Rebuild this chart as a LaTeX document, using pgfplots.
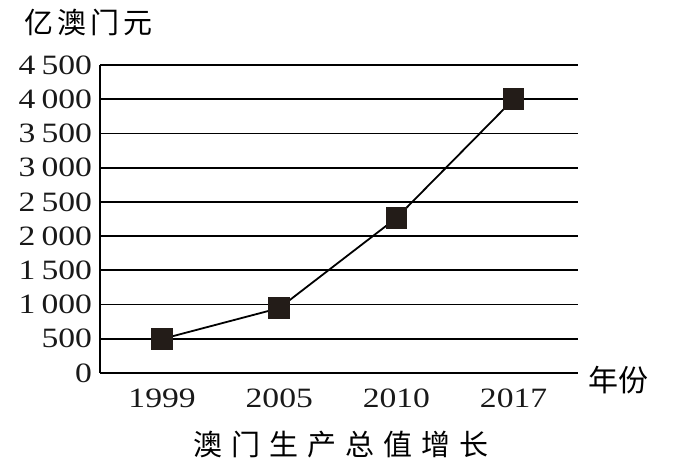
\documentclass[border=0pt]{standalone}
\usepackage{pgfplots}
\pgfplotsset{compat=1.18}
\usepackage{fontspec}
\setmainfont{Liberation Serif}
\newfontfamily\tickfont[FakeStretch=1.2]{Liberation Serif}
\newfontfamily\cjk{Noto Sans CJK SC}
\definecolor{mk}{HTML}{231C18}
\begin{document}
\begin{tikzpicture}
\path[use as bounding box] (-50pt,-48.5pt) rectangle (297.5pt,186.5pt);
\begin{axis}[
  at={(0,0)}, anchor=south west,
  scale only axis, width=239pt, height=154pt,
  xmin=-0.53, xmax=3.55, ymin=0, ymax=4500,
  ytick={0,500,...,4500},
  xtick={0,1,2,3}, xticklabels={1999,2005,2010,2017},
  axis x line*=bottom, axis y line*=left,
  axis line style={line width=0.9pt, black},
  ymajorgrids, grid style={black, line width=0.9pt},
  major tick length=0pt,
  tick label style={font=\tickfont\fontsize{14}{16}\selectfont, text=black!90},
  yticklabel style={xshift=-0.5pt},
  xticklabel style={yshift=-4.5pt},
  /pgf/number format/assume math mode=true,
  /pgf/number format/1000 sep={\hspace{0.22em}},
  clip=false,
]
\addplot[black, line width=0.9pt, mark=square*, mark size=5pt,
  mark options={fill=mk, draw=mk}] coordinates {
  (0,497) (1,948) (2,2265) (3,4000)
};
\node[font=\cjk\fontsize{14.5}{16}\selectfont, anchor=center]
  at ([xshift=-5.5pt, yshift=21.5pt]rel axis cs:0,1) {亿\hspace{2pt}澳\hspace{2pt}门\hspace{2pt}元};
\node[font=\cjk\fontsize{15}{16}\selectfont, anchor=center]
  at ([xshift=20pt, yshift=-3.5pt]rel axis cs:1,0) {年份};
\node[font=\cjk\fontsize{14.5}{16}\selectfont, anchor=center]
  at ([xshift=1pt, yshift=-36pt]rel axis cs:0.5,0) {澳\hspace{4.5pt}门\hspace{4.5pt}生\hspace{4.5pt}产\hspace{4.5pt}总\hspace{4.5pt}值\hspace{4.5pt}增\hspace{4.5pt}长};
\end{axis}
\end{tikzpicture}
\end{document}
